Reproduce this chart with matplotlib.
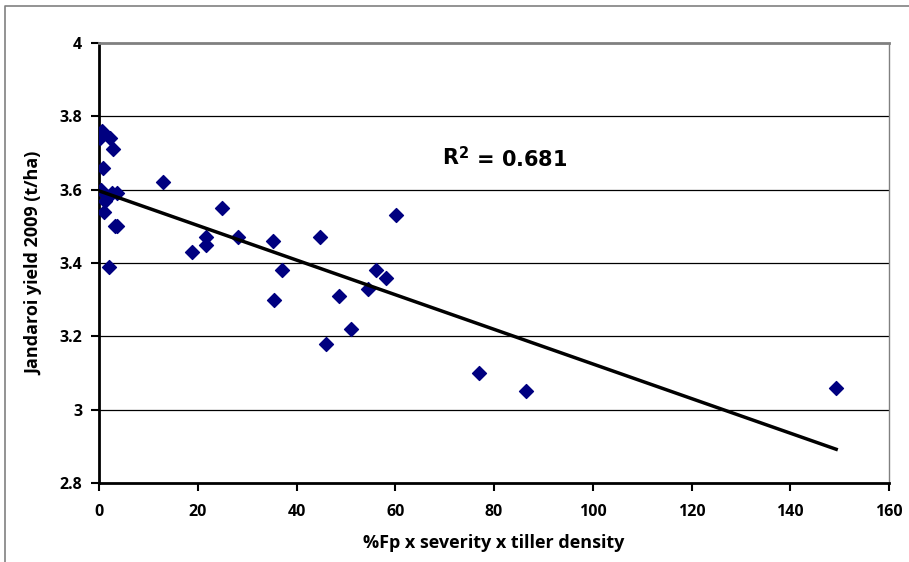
import numpy as np
import matplotlib
matplotlib.use("Agg")
import matplotlib.pyplot as plt
from matplotlib.lines import Line2D

x_vals = [0.2, 0.67, 2.2, 2.9, 0.87, 0.35, 1.2, 2.6, 3.6, 1.0, 3.2, 3.7, 2.1, 13.0,
          25.0, 21.6, 21.6, 18.8, 28.2, 35.2, 37.0, 35.4, 44.8, 48.6, 45.9, 51.1,
          54.5, 56.1, 58.1, 60.1, 77.0, 86.5, 149.3]
y_vals = [3.74, 3.76, 3.74, 3.71, 3.66, 3.60, 3.57, 3.59, 3.59, 3.54, 3.50, 3.50, 3.39, 3.62,
          3.55, 3.47, 3.45, 3.43, 3.47, 3.46, 3.38, 3.30, 3.47, 3.31, 3.18, 3.22,
          3.33, 3.38, 3.36, 3.53, 3.10, 3.05, 3.06]
x_ticks = [0, 20, 40, 60, 80, 100, 120, 140, 160]
y_ticks = [2.8, 3.0, 3.2, 3.4, 3.6, 3.8, 4.0]
y_tick_labels = ["2.8", "3", "3.2", "3.4", "3.6", "3.8", "4"]

x = np.array(x_vals)
y = np.array(y_vals)

fig = plt.figure(figsize=(9.09, 5.62), dpi=100)
ax = fig.add_axes([99/909, 1-483/562, (889-99)/909, (483-43)/562])

ax.set_xlim(0, 160)
ax.set_ylim(2.8, 4.0)

for yt in y_ticks[1:-1]:
    ax.axhline(yt, color="black", lw=0.9, zorder=1)

ax.scatter(x, y, marker="D", s=50, color="#000080", edgecolors="#000080", zorder=3)

m, b = np.polyfit(x, y, 1)
xl = np.array([0, x.max()])
ax.plot(xl, m*xl + b, color="black", lw=2.5, zorder=4)

ax.spines["left"].set_linewidth(2)
ax.spines["bottom"].set_linewidth(2)
ax.spines["top"].set_color("#808080")
ax.spines["top"].set_linewidth(2)
ax.spines["right"].set_color("#808080")
ax.spines["right"].set_linewidth(1)

fam = ["Open Sans", "DejaVu Sans"]
ax.set_xticks(x_ticks)
ax.set_xticklabels([str(t) for t in x_ticks], fontsize=11.5, fontweight="bold", family=fam)
ax.set_yticks(y_ticks)
ax.set_yticklabels(y_tick_labels, fontsize=11.5, fontweight="bold", family=fam)
ax.tick_params(axis="both", direction="out", length=6, width=1.5, color="black")
ax.tick_params(axis="x", pad=9)
ax.tick_params(axis="y", pad=6)

ax.set_xlabel("%Fp x severity x tiller density", fontsize=13, fontweight="bold", family=fam, labelpad=10)
ax.set_ylabel("Jandaroi yield 2009 (t/ha)", fontsize=13, fontweight="bold", family=fam, labelpad=12)

ax.text(72.7, 3.686, "R", fontsize=15, fontweight="bold", family=["DejaVu Sans"],
        ha="right", va="center")
ax.text(72.7, 3.686, "$^{\\mathbf{2}}$ = 0.681", fontsize=15, fontweight="bold",
        family=["DejaVu Sans"], ha="left", va="center")

fig.add_artist(Line2D([5/909, 5/909, 1.0], [0, 1-6/562, 1-6/562], transform=fig.transFigure,
                      color="#808080", lw=1.2))

fig.savefig("out.png", dpi=100)
